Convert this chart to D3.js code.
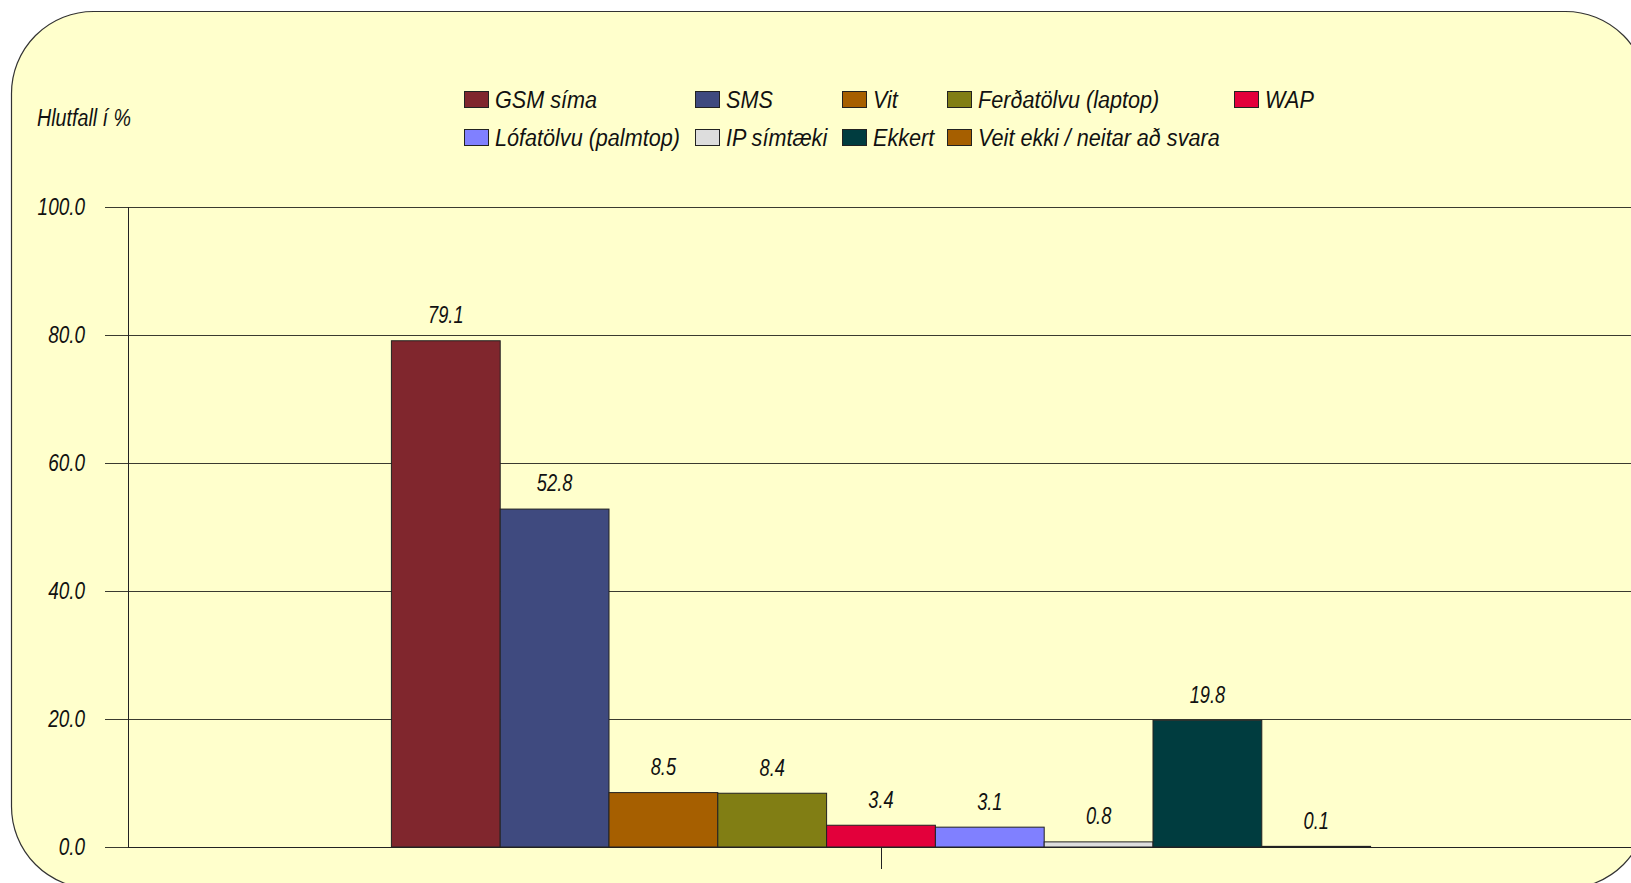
<!DOCTYPE html>
<html>
<head>
<meta charset="utf-8">
<script src="https://cdn.jsdelivr.net/npm/d3@7"></script>
<style>
  body { margin: 0; background: #ffffff; overflow: hidden; }
  text { font-family: "Liberation Sans", Arial, sans-serif; font-style: italic; fill: #111; font-size: 24px; }
</style>
</head>
<body>
<svg id="chart"></svg>
<script>
// Chart data
const categories = ["GSM síma", "SMS", "Vit", "Ferðatölvu (laptop)", "WAP",
                    "Lófatölvu (palmtop)", "IP símtæki", "Ekkert", "Veit ekki / neitar að svara"];
const values = [79.1, 52.8, 8.5, 8.4, 3.4, 3.1, 0.8, 19.8, 0.1];
const colors = ["#80262D", "#3F4A7F", "#A65F00", "#817E14", "#E3003B",
                "#8080FF", "#DDDDDD", "#003C3F", "#A65F00"];
const yTicks = [0, 20, 40, 60, 80, 100];
const yTitle = "Hlutfall í %";

const W = 1631, H = 883;
const plot = { left: 128, right: 1634, top: 207, bottom: 847 };

// narrow italic look: squeeze Liberation Sans horizontally
const narrow = (x, y, sx) => `translate(${x},${y}) scale(${sx},1)`;

const svg = d3.select("#chart")
    .attr("width", W)
    .attr("height", H);

// Yellow rounded frame (runs past the picture on the right and bottom)
svg.append("rect")
    .attr("x", 11.5).attr("y", 11.5)
    .attr("width", 1636).attr("height", 877)
    .attr("rx", 82).attr("ry", 82)
    .attr("fill", "#FFFFCC")
    .attr("stroke", "#333")
    .attr("stroke-width", 1.2);

// Scales
const y = d3.scaleLinear().domain([0, 100]).range([plot.bottom, plot.top]);

const x0 = d3.scaleBand()
    .domain(["all"])
    .range([plot.left, plot.right])
    .paddingInner(0)
    .paddingOuter(0.269);

const x1 = d3.scaleBand()
    .domain(categories)
    .range([x0("all"), x0("all") + x0.bandwidth()]);

// Gridlines with tick stubs on the left
svg.selectAll(".grid")
    .data(yTicks)
    .enter().append("line")
    .attr("class", "grid")
    .attr("x1", plot.left - 23)
    .attr("x2", plot.right)
    .attr("y1", d => Math.round(y(d)) + 0.5)
    .attr("y2", d => Math.round(y(d)) + 0.5)
    .attr("stroke", "#3a3a30")
    .attr("stroke-width", 1);

// Y axis labels
svg.selectAll(".ylab")
    .data(yTicks)
    .enter().append("text")
    .attr("class", "ylab")
    .attr("transform", d => narrow(85, y(d), 0.79))
    .attr("dy", "0.35em")
    .attr("text-anchor", "end")
    .text(d => d3.format(".1f")(d));

// Y axis title
svg.append("text")
    .attr("transform", narrow(37, 118, 0.82))
    .attr("dy", "0.35em")
    .text(yTitle);

// Bars
svg.selectAll(".bar")
    .data(values)
    .enter().append("rect")
    .attr("class", "bar")
    .attr("x", (d, i) => x1(categories[i]))
    .attr("y", d => y(d))
    .attr("width", x1.bandwidth())
    .attr("height", d => y(0) - y(d))
    .attr("fill", (d, i) => colors[i])
    .attr("stroke", "#222")
    .attr("stroke-width", 1);

// Value labels
svg.selectAll(".val")
    .data(values)
    .enter().append("text")
    .attr("class", "val")
    .attr("transform", (d, i) => narrow(x1(categories[i]) + x1.bandwidth() / 2, y(d) - 26, 0.76))
    .attr("dy", "0.35em")
    .attr("text-anchor", "middle")
    .text(d => d3.format(".1f")(d));

// Axis lines and the single category tick
svg.append("line")
    .attr("x1", plot.left + 0.5).attr("x2", plot.left + 0.5)
    .attr("y1", plot.top).attr("y2", plot.bottom)
    .attr("stroke", "#222");
svg.append("line")
    .attr("x1", plot.left).attr("x2", plot.right)
    .attr("y1", plot.bottom + 0.5).attr("y2", plot.bottom + 0.5)
    .attr("stroke", "#222");
svg.append("line")
    .attr("x1", Math.round(x0("all") + x0.bandwidth() / 2) + 0.5)
    .attr("x2", Math.round(x0("all") + x0.bandwidth() / 2) + 0.5)
    .attr("y1", plot.bottom).attr("y2", plot.bottom + 22)
    .attr("stroke", "#222");

// Legend: 5 columns on the first row, 4 on the second
const legendCols = [464, 695, 842, 947, 1234];
const legendRows = [100, 138];
const legendPos = categories.map((c, i) => i < 5
    ? { x: legendCols[i], y: legendRows[0] }
    : { x: legendCols[i - 5], y: legendRows[1] });

const legend = svg.selectAll(".legend")
    .data(categories)
    .enter().append("g")
    .attr("class", "legend")
    .attr("transform", (d, i) => `translate(${legendPos[i].x},${legendPos[i].y})`);

legend.append("rect")
    .attr("x", 0.5).attr("y", -8.5)
    .attr("width", 24).attr("height", 16)
    .attr("fill", (d, i) => colors[i])
    .attr("stroke", "#222");

legend.append("text")
    .attr("transform", narrow(31, 0, 0.90))
    .attr("dy", "0.35em")
    .text(d => d);
</script>
</body>
</html>
